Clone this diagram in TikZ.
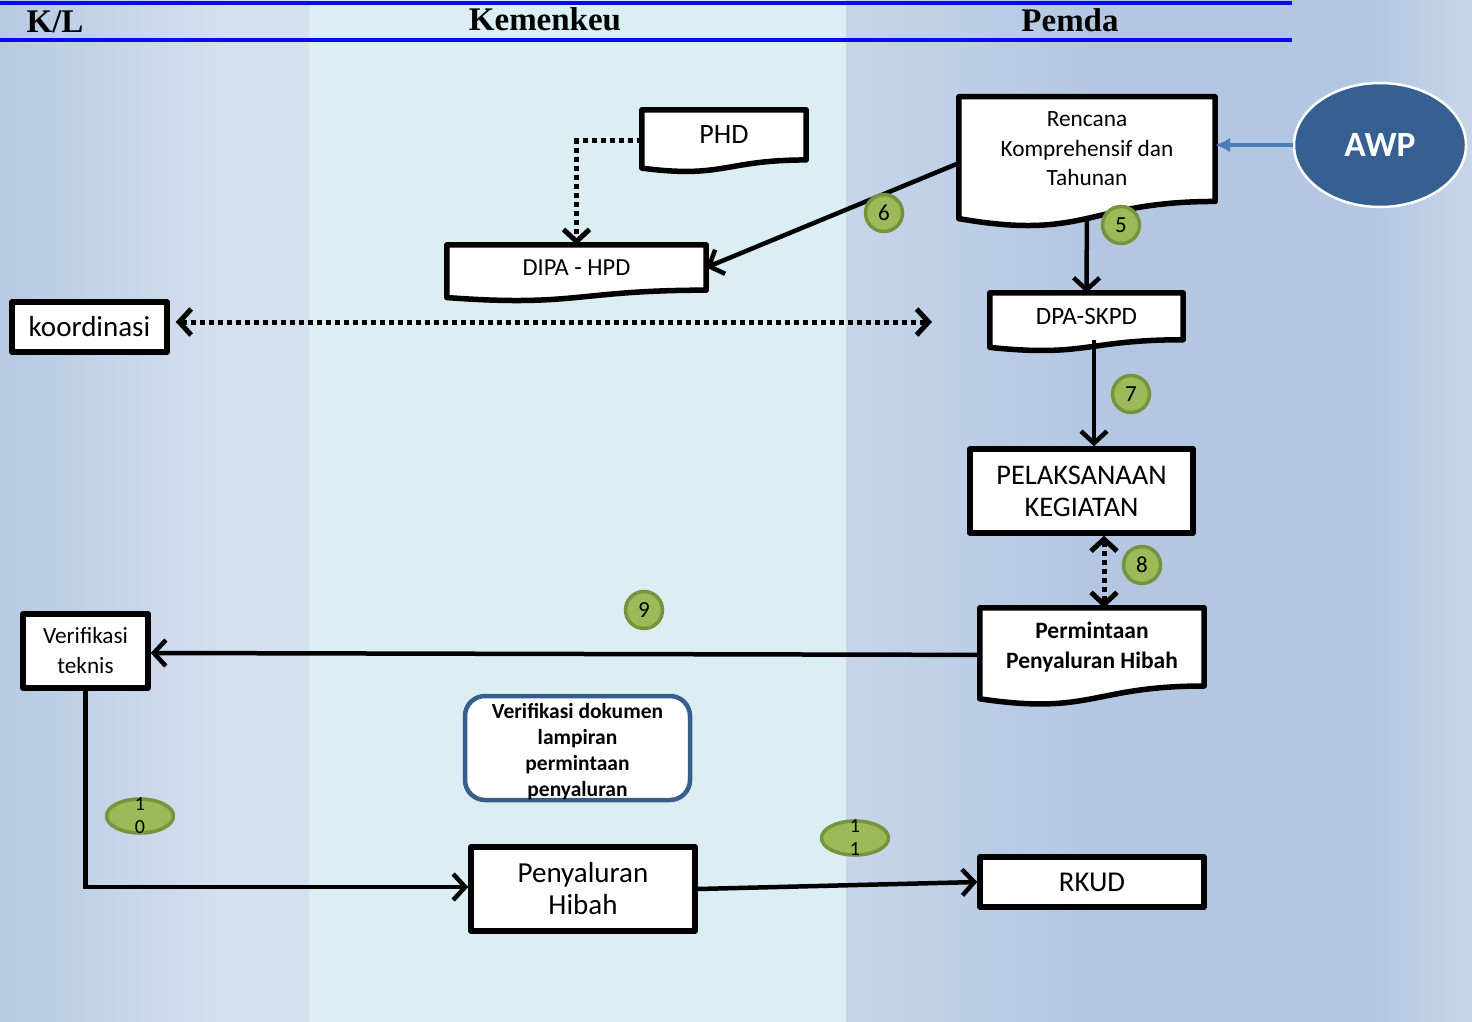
\documentclass[tikz,border=0pt]{standalone}
\usepackage{fontspec}
\setmainfont{Carlito}
\newfontfamily\hdrfont{Liberation Serif}
\usetikzlibrary{arrows.meta,calc,shapes.geometric}

\definecolor{colLa}{HTML}{B6CAE3}
\definecolor{colLb}{HTML}{D5E0EF}
\definecolor{colM}{HTML}{DBEEF4}
\definecolor{colRa}{HTML}{C6D5EA}
\definecolor{colRb}{HTML}{B3C7E2}
\definecolor{colRc}{HTML}{C8D6EA}
\definecolor{hdrblue}{HTML}{0A0AF0}
\definecolor{badgefill}{HTML}{9BBB59}
\definecolor{badgeline}{HTML}{77933C}
\definecolor{awpfill}{HTML}{376092}
\definecolor{awparrow}{HTML}{4A7EBB}
\definecolor{vdline}{HTML}{385D8A}

\pgfdeclarehorizontalshading{shL}{100bp}{color(0bp)=(colLa); color(25bp)=(colLa); color(62bp)=(colLb); color(75bp)=(colLb); color(100bp)=(colLb)}
\pgfdeclarehorizontalshading{shR}{100bp}{color(0bp)=(colRa); color(25bp)=(colRa); color(45bp)=(colRb); color(67bp)=(colRb); color(75bp)=(colRc); color(100bp)=(colRc)}

\pgfdeclarelayer{bgl}
\pgfdeclarelayer{lines}
\pgfdeclarelayer{shapes}
\pgfsetlayers{bgl,lines,shapes,main}

\newcommand{\docshape}[2]{%
  \draw[boxline,fill=white] (#1.north west) -- (#1.north east) -- (#1.south east)
    .. controls (#1.south) and ($(#1.south)+(0,0.305*#2)$) .. ($(#1.south west)+(0,0.132*#2)$) -- cycle;}

\tikzset{
  boxline/.style={draw=black,line width=5.5pt,line join=round},
  rectbox/.style={boxline,fill=white,inner sep=0pt,align=center},
  docnode/.style={inner sep=0pt,align=center},
  hdr/.style={font=\hdrfont\bfseries\fontsize{33}{36}\selectfont,inner sep=0pt},
  badge/.style={circle,fill=badgefill,draw=badgeline,line width=3.5pt,minimum size=37pt,inner sep=0pt,font=\fontsize{23}{24}\selectfont},
  ebadge/.style={ellipse,fill=badgefill,draw=badgeline,line width=3.5pt,minimum width=67pt,minimum height=34pt,inner sep=0pt,font=\fontsize{20}{23}\selectfont},
  barb/.tip={Straight Barb[length=12pt,width=26pt]},
  conn/.style={line width=4.5pt,-barb},
  dotconn/.style={line width=5pt,dash pattern=on 5pt off 4pt,-barb},
  dotboth/.style={line width=5pt,dash pattern=on 5pt off 4pt,barb-barb},
  awpconn/.style={awparrow,line width=4pt,-{Latex[length=15pt,width=15pt]}}
}

\begin{document}
\begin{tikzpicture}[x=1pt,y=-1pt]
\useasboundingbox (0,0) rectangle (1472,1022);
\begin{pgfonlayer}{bgl}
  \shade[shading=shL] (0,0) rectangle (309,1022);
  \fill[colM] (309,0) rectangle (846,1022);
  \shade[shading=shR] (846,0) rectangle (1472,1022);
  \draw[hdrblue,line width=3.5pt] (0,3) -- (1292,3);
  \draw[hdrblue,line width=3.5pt] (0,40) -- (1292,40);
\end{pgfonlayer}

% headers
\node[hdr] (hkl) at (55,22) {K/L};
\node[hdr] (hkem) at (545,19) {Kemenkeu};
\node[hdr] (hpem) at (1070,20) {Pemda};

% document-shaped nodes
\node[docnode,minimum width=164pt,minimum height=49.7pt,font=\fontsize{28}{32}\selectfont] (phd) at (724,134.9) {PHD};
\node[docnode,minimum width=259pt,minimum height=44.9pt,font=\fontsize{24.5}{28}\selectfont] (dipa) at (576.5,267.5) {DIPA - HPD};
\node[docnode,minimum width=256pt,minimum height=104.3pt,font=\fontsize{23.3}{29.5}\selectfont] (renc) at (1087,149.1) {Rencana\\Komprehensif dan\\Tahunan};
\node[docnode,minimum width=193pt,minimum height=46.5pt,font=\fontsize{25}{28}\selectfont] (dpa) at (1086.5,316.3) {DPA-SKPD};
\node[docnode,minimum width=224pt,minimum height=77.8pt,font=\bfseries\fontsize{23.5}{30}\selectfont] (perm) at (1092,646.9) {Permintaan\\Penyaluran Hibah};

\begin{pgfonlayer}{shapes}
  \docshape{phd}{62}
  \docshape{dipa}{56}
  \docshape{renc}{130}
  \docshape{dpa}{58}
  \docshape{perm}{97}
\end{pgfonlayer}

% rectangular nodes
\node[rectbox,minimum width=155pt,minimum height=50pt,font=\fontsize{29}{32}\selectfont] (koord) at (89.5,327) {koordinasi};
\node[rectbox,minimum width=125pt,minimum height=74pt,font=\fontsize{23.2}{30}\selectfont] (vt) at (85.5,651) {Verifikasi\\teknis};
\node[rectbox,minimum width=224pt,minimum height=84pt,font=\fontsize{29}{32}\selectfont] (peny) at (583,889) {Penyaluran\\Hibah};
\node[rectbox,minimum width=224pt,minimum height=50pt,font=\fontsize{28.7}{32}\selectfont] (rkud) at (1092,882) {RKUD};
\node[rectbox,minimum width=223pt,minimum height=84pt,font=\fontsize{28.4}{32}\selectfont] (pel) at (1081.5,491) {PELAKSANAAN\\KEGIATAN};
\node[draw=vdline,line width=4.5pt,fill=white,rounded corners=20pt,inner sep=0pt,align=center,minimum width=225pt,minimum height=104pt,font=\bfseries\fontsize{21.5}{26}\selectfont] (vd) at (577.5,748) {\rule{0pt}{22pt}Verifikasi dokumen\\lampiran\\permintaan\\penyaluran};
\node[ellipse,fill=awpfill,draw=white,line width=2.5pt,minimum width=172pt,minimum height=124pt,inner sep=0pt,text=white,font=\bfseries\fontsize{35.5}{38}\selectfont] (awp) at (1380,145) {AWP};

% connectors
\coordinate (kend) at (932,322);
\draw[dotconn] ([yshift=-6pt]phd.west) -| (dipa.north);
\draw[conn] ([yshift=-14pt]renc.west) -- (dipa.east);
\begin{pgfonlayer}{lines}
  \draw[conn] (renc.south) -- (dpa.north);
\end{pgfonlayer}
\draw[conn] ([xshift=7.5pt]dpa.south) -- ([xshift=7.5pt]dpa.south |- pel.north);
\draw[dotboth] ([xshift=22.5pt]pel.south) -- ([xshift=22.5pt]pel.south |- perm.north);
\draw[dotboth] ([xshift=6pt]koord.east |- kend) -- (kend);
\draw[conn] ([yshift=-8pt]perm.west) -- ([yshift=-2pt]vt.east);
\draw[conn] (vt.south) |- ([yshift=2pt]peny.west);
\draw[conn] (peny.east) -- (rkud.west);
\draw[awpconn] (awp.west) -- (awp.west -| renc.east);

% number badges
\node[badge] (b6) at (884,213) {6};
\node[badge] (b5) at (1121,225) {5};
\node[badge] (b7) at (1131,394) {7};
\node[badge] (b8) at (1142,565) {8};
\node[badge] (b9) at (644,610) {9};
\node[ebadge] (b10) at (140,816) {\vbox to 0pt{\vss\baselineskip=23pt\hbox{1}\hbox{0}\vss}};
\node[ebadge] (b11) at (855,838) {\vbox to 0pt{\vss\baselineskip=23pt\hbox{1}\hbox{1}\vss}};
\end{tikzpicture}
\end{document}
